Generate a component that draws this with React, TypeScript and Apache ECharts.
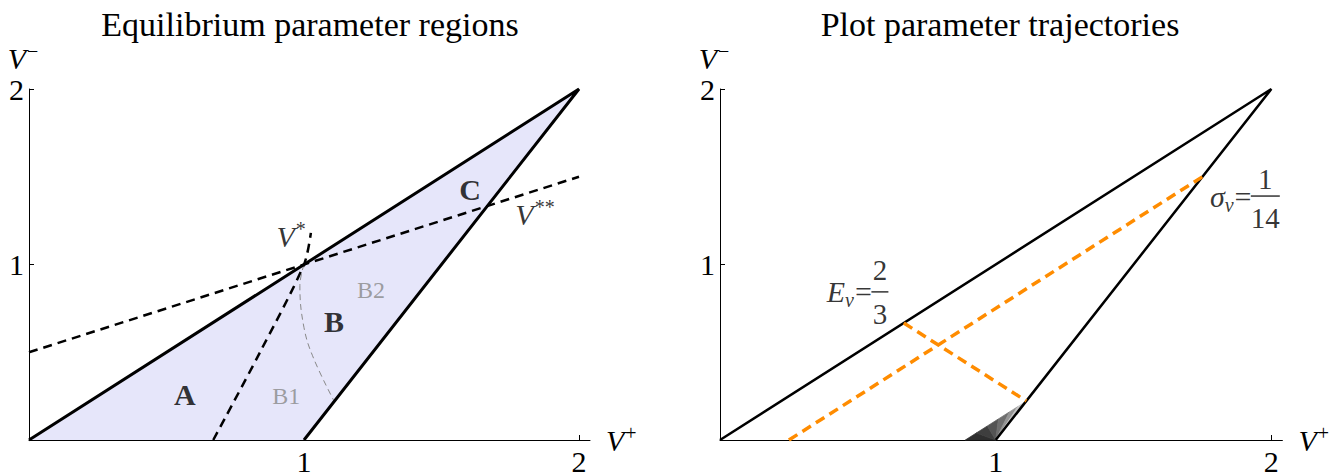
import React, { useEffect, useRef } from "react";
import * as echarts from "echarts";

const FONT = "'Liberation Serif', 'Times New Roman', serif";

// ---------- data (left chart) ----------
const regionPts: number[][] = [[0, 0], [2, 2], [1, 0]];
const boundaryPts: number[][] = [[0, 0], [2, 2], [1, 0]];
const vStarStarPts: number[][] = [[0, 0.5], [2, 1.5]];
const vStarPts: number[][] = [[0.67, 0], [0.84, 0.5], [1, 1], [1.025, 1.18]];
const b1b2Pts: number[][] = [[1, 1], [0.985, 0.88], [1.0, 0.64], [1.035, 0.465], [1.11, 0.22]];
const leftLabels = [
  { name: "{b|A}", value: [0.567, 0.26] },
  { name: "{b|B}", value: [1.109, 0.674] },
  { name: "{b|C}", value: [1.604, 1.428] },
  { name: "{g|B1}", value: [0.935, 0.25] },
  { name: "{g|B2}", value: [1.244, 0.856] },
  { name: "{i|V}{sup|*}", value: [0.953, 1.16] },
  { name: "{i|V}{sup|**}", value: [1.84, 1.286] },
];

// ---------- data (right chart) ----------
const triPts: number[][] = [[0, 0], [2, 2], [1, 0]];
const sigmaPts: number[][] = [[0.25, 0], [1.75, 1.5]];
const ePts: number[][] = [[2 / 3, 2 / 3], [10 / 9, 2 / 9]];
const wedgePivot: number[] = [1, 0];
const wedgeEdge: number[][] = [[0.89, 0], [0.93, 0.04], [0.97, 0.08], [1.01, 0.12], [1.05, 0.16], [1.08, 0.19], [1.111, 0.222]];
const wedgeColors: string[] = ["#2e2e2e", "#3e3e3e", "#545454", "#6e6e6e", "#949494", "#c4c4c4"];
const rightLabels = [
  { name: "{i|E}{sub|v}{t|=}", value: [0.551, 0.844], align: "right" },
  { name: "{n|2}", value: [0.58, 0.968], align: "center" },
  { name: "{bar| }", value: [0.58, 0.844], align: "center" },
  { name: "{n|3}", value: [0.58, 0.72], align: "center" },
  { name: "{i|σ}{sub|v}{t|=}", value: [1.928, 1.385], align: "right" },
  { name: "{n|1}", value: [1.978, 1.49], align: "center" },
  { name: "{bar2| }", value: [1.978, 1.39], align: "center" },
  { name: "{n|14}", value: [1.978, 1.266], align: "center" },
];

const tickValues: number[] = [1, 2];
const titles: string[] = ["Equilibrium parameter regions", "Plot parameter trajectories"];

const rich = {
  i: { fontFamily: FONT, fontStyle: "italic", fontSize: 30, color: "#000" },
  sup: { fontFamily: FONT, fontSize: 20, color: "#000", verticalAlign: "top", padding: [0, 0, 14, 1] },
  sub: { fontFamily: FONT, fontStyle: "italic", fontSize: 20, color: "#000", padding: [16, 1, 0, 0] },
  t: { fontFamily: FONT, fontSize: 30, color: "#000" },
  b: { fontFamily: FONT, fontWeight: "bold", fontSize: 30, color: "#000" },
  g: { fontFamily: FONT, fontSize: 24, color: "#888" },
  n: { fontFamily: FONT, fontSize: 29, color: "#000" },
  bar: { width: 17, height: 1.5, lineHeight: 2, fontSize: 2, backgroundColor: "#000" },
  bar2: { width: 29, height: 1.5, lineHeight: 2, fontSize: 2, backgroundColor: "#000" },
};

function axes(gi: number) {
  const x = {
    type: "value",
    gridIndex: gi,
    min: 0,
    max: 2.04,
    interval: 1,
    name: "{i|V}{sup|+}",
    nameLocation: "end",
    nameGap: 16,
    nameTextStyle: { rich },
    axisLine: { show: true, onZero: false, lineStyle: { color: "#000", width: 1 } },
    axisTick: { show: true, inside: true, length: 5, customValues: tickValues, lineStyle: { color: "#000" } },
    axisLabel: { show: true, customValues: tickValues, fontFamily: FONT, fontSize: 30, color: "#000", margin: 6 },
    splitLine: { show: false },
  };
  const y = {
    type: "value",
    gridIndex: gi,
    min: 0,
    max: 2,
    interval: 1,
    name: "{i|V}{sup|−}",
    nameLocation: "end",
    nameGap: 14,
    nameTextStyle: { rich, align: "center", padding: [0, 12, 0, 0] },
    axisLine: { show: true, onZero: false, lineStyle: { color: "#000", width: 1 } },
    axisTick: { show: true, inside: true, length: 5, customValues: tickValues, lineStyle: { color: "#000" } },
    axisLabel: { show: true, customValues: tickValues, fontFamily: FONT, fontSize: 30, color: "#000", margin: 5 },
    splitLine: { show: false },
  };
  return { x, y };
}

function lineSeries(gi: number, data: number[][], style: any, z = 3, smooth: any = false) {
  return {
    type: "line",
    xAxisIndex: gi,
    yAxisIndex: gi,
    data,
    symbol: "none",
    showSymbol: false,
    smooth,
    silent: true,
    lineStyle: style,
    z,
    clip: false,
  };
}

export default function App() {
  const ref = useRef<HTMLDivElement>(null);
  useEffect(() => {
    document.body.style.margin = "0";
    const chart = echarts.init(ref.current!, null, { renderer: "svg" });
    const a0 = axes(0);
    const a1 = axes(1);
    const option: any = {
      animation: false,
      backgroundColor: "#fff",
      title: [
        { text: titles[0], left: 305, top: 2, textAlign: "center", textStyle: { fontFamily: FONT, fontSize: 34, fontWeight: "normal", color: "#000" } },
        { text: titles[1], left: 995, top: 2, textAlign: "center", textStyle: { fontFamily: FONT, fontSize: 34, fontWeight: "normal", color: "#000" } },
      ],
      grid: [
        { left: 29, top: 89, width: 561, height: 353 },
        { left: 720, top: 89, width: 563, height: 353 },
      ],
      xAxis: [a0.x, a1.x],
      yAxis: [a0.y, a1.y],
      series: [
        {
          type: "custom",
          xAxisIndex: 0,
          yAxisIndex: 0,
          silent: true,
          z: 1,
          data: [0],
          renderItem: (params: any, api: any) => ({
            type: "polygon",
            shape: { points: regionPts.map((p) => api.coord(p)) },
            style: { fill: "#e6e6fa" },
          }),
        },
        lineSeries(0, vStarStarPts, { color: "#000", width: 2.5, type: [9, 6] }, 3),
        lineSeries(0, vStarPts, { color: "#000", width: 2.5, type: [9, 6] }, 3, 0.3),
        lineSeries(0, b1b2Pts, { color: "#888", width: 1, type: [6, 4] }, 3, 0.4),
        lineSeries(0, boundaryPts, { color: "#000", width: 3 }, 4),
        {
          type: "scatter",
          xAxisIndex: 0,
          yAxisIndex: 0,
          symbolSize: 0,
          silent: true,
          z: 6,
          data: leftLabels.map((l) => ({ value: l.value, name: l.name })),
          label: { show: true, position: "inside", formatter: (p: any) => p.name, rich },
        },
        // right chart
        {
          type: "custom",
          xAxisIndex: 1,
          yAxisIndex: 1,
          silent: true,
          z: 1,
          data: wedgeColors.map((_, i) => i),
          renderItem: (params: any, api: any) => {
            const i = params.dataIndex;
            return {
              type: "polygon",
              shape: { points: [wedgePivot, wedgeEdge[i], wedgeEdge[i + 1]].map((p) => api.coord(p)) },
              style: { fill: wedgeColors[i], stroke: wedgeColors[i], lineWidth: 0.8 },
            };
          },
        },
        lineSeries(1, triPts, { color: "#000", width: 2.5 }, 3),
        lineSeries(1, sigmaPts, { color: "#ff8c00", width: 3.5, type: [10, 6] }, 4),
        lineSeries(1, ePts, { color: "#ff8c00", width: 3.5, type: [10, 6] }, 4),
        {
          type: "scatter",
          xAxisIndex: 1,
          yAxisIndex: 1,
          symbolSize: 0,
          silent: true,
          z: 6,
          data: rightLabels.map((l) => ({
            value: l.value,
            name: l.name,
            label: { align: l.align, verticalAlign: "middle" },
          })),
          label: { show: true, position: "inside", formatter: (p: any) => p.name, rich },
        },
      ],
    };
    chart.setOption(option);
    return () => chart.dispose();
  }, []);
  return <div ref={ref} style={{ width: 1332, height: 476 }} />;
}
